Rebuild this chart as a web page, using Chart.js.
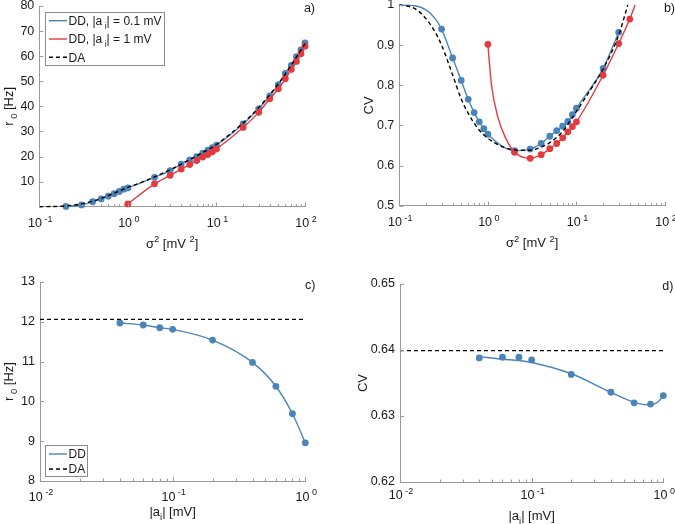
<!DOCTYPE html>
<html>
<head>
<meta charset="utf-8">
<script src="https://cdn.jsdelivr.net/npm/chart.js@4.4.1/dist/chart.umd.min.js"></script>
<style>
  html, body { margin: 0; padding: 0; background: #fff; }
  #wrap { position: relative; width: 675px; height: 524px; overflow: hidden; }
  canvas { position: absolute; }
</style>
</head>
<body>
<div id="wrap">
  <canvas id="pa" width="337" height="262" style="left:0;top:0"></canvas>
  <canvas id="pb" width="338" height="262" style="left:337px;top:0"></canvas>
  <canvas id="pc" width="337" height="262" style="left:0;top:262px"></canvas>
  <canvas id="pd" width="338" height="262" style="left:337px;top:262px"></canvas>
</div>
<script>
// ---------------- DATA ----------------
// Panel a) : r0 [Hz] vs sigma^2 [mV^2]
const sigma2BlueA = [0.2,0.3,0.4,0.5,0.6,0.7,0.8,0.9,1,2,3,4,5,6,7,8,9,10,20,30,40,50,60,70,80,90,100];
const r0BlueA     = [0.1,0.7,2.0,3.1,4.2,5.2,6.1,7.0,7.5,11.7,14.4,17.0,18.7,20.0,21.3,22.5,23.5,24.5,33.0,39.0,44.2,48.6,53.1,56.3,59.8,62.5,65.3];
const sigma2RedA  = [1,2,3,4,5,6,7,8,9,10,20,30,40,50,60,70,80,90,100];
const r0RedA      = [1.1,9.1,12.5,15.0,16.8,18.4,19.8,20.8,21.9,23.0,31.6,37.6,43.0,47.0,51.0,54.7,57.9,61.0,64.0];
const sigma2DAA   = [0.1,0.15,0.2,0.3,0.5,0.7,1,1.5,2,3,5,7,10,20,30,50,70,100];
const r0DAA       = [0,0.1,0.35,1.1,3.3,5.4,7.7,10.0,11.9,14.7,18.8,21.6,24.8,33.4,39.5,49.0,56.5,65.0];

// Panel b) : CV vs sigma^2 [mV^2]
const sigma2BlueB = [0.3,0.4,0.5,0.6,0.7,0.8,0.9,1,2,3,4,5,6,7,8,9,10,20,30];
const cvBlueB     = [0.940,0.868,0.812,0.765,0.732,0.709,0.692,0.678,0.637,0.641,0.655,0.673,0.687,0.698,0.710,0.727,0.743,0.842,0.932];
const sigma2BlueLeadB = [0.1,0.15,0.2,0.25];
const cvBlueLeadB     = [1.0,0.998,0.988,0.968];
const sigma2RedB  = [1,2,3,4,5,6,7,8,9,10,20,30,40];
const cvRedB      = [0.902,0.633,0.618,0.627,0.642,0.655,0.669,0.684,0.697,0.709,0.825,0.904,0.965];
const sigma2RedCurveB = [1,1.1,1.3,1.6,2,3,4,5,6,7,8,9,10,20,30,40,46];
const cvRedCurveB     = [0.902,0.80,0.72,0.667,0.633,0.618,0.627,0.642,0.655,0.669,0.684,0.697,0.709,0.825,0.904,0.965,1.0];
const sigma2DAB   = [0.1,0.15,0.2,0.25,0.3,0.4,0.5,0.6,0.8,1,1.5,2,3,4,5,7,10,15,20,30,38];
const cvDAB       = [1.0,0.991,0.966,0.935,0.9,0.826,0.766,0.73,0.688,0.668,0.646,0.639,0.638,0.646,0.657,0.685,0.735,0.795,0.84,0.925,1.0];

// Panel c) : r0 [Hz] vs |a_i| [mV]
const aiDD   = [0.04,0.06,0.08,0.1,0.2,0.4,0.6,0.8,1];
const r0DD   = [11.97,11.92,11.85,11.81,11.54,10.98,10.38,9.69,8.96];
const aiDA   = [0.01,1];
const r0DA   = [12.06,12.06];

// Panel d) : CV vs |a_i| [mV]
const cvDD      = [0.6388,0.6389,0.6389,0.6385,0.6363,0.6336,0.6320,0.6318,0.6331];
const aiFitD    = [0.04,0.06,0.08,0.1,0.2,0.4,0.6,0.75,0.85,0.93,1];
const cvFitD    = [0.6390,0.6386,0.6384,0.6381,0.6364,0.6336,0.6321,0.6317,0.6318,0.6323,0.6331];
const cvDA      = [0.6399,0.6399];

// Tick labels
const yTicksA = [10,20,30,40,50,60,70,80];
const yTicksB = [0.5,0.6,0.7,0.8,0.9,1];
const yTicksC = [8,9,10,11,12,13];
const yTicksD = [0.62,0.63,0.64,0.65];
const xExpAB  = [-1,0,1,2];
const xExpCD  = [-2,-1,0];

// ---------------- STYLE / HELPERS ----------------
const BLUE = '#4a84b8';
const RED = '#e43a3f';
const AXIS = '#9a9a9a';
const TXT = '#1a1a1a';
const FAM = '"Liberation Sans", Arial, Helvetica, sans-serif';
const font = sz => sz + 'px ' + FAM;
const pts = (xs, ys) => xs.map((x, i) => ({x: x, y: ys[i]}));

function richWidth(ctx, parts, size) {
  let w = 0;
  for (const p of parts) { ctx.font = font(p.s ? size * 0.72 : size); w += ctx.measureText(p.t).width; }
  return w;
}
function drawRich(ctx, parts, x, y, size, align) {
  const w = richWidth(ctx, parts, size);
  let cx = align === 'center' ? x - w / 2 : (align === 'right' ? x - w : x);
  ctx.textAlign = 'left'; ctx.textBaseline = 'alphabetic'; ctx.fillStyle = TXT;
  for (const p of parts) {
    ctx.font = font(p.s ? size * 0.72 : size);
    const dy = p.s === 'sup' ? -size * 0.42 : (p.s === 'sub' ? size * 0.32 : 0);
    ctx.fillText(p.t, cx, y + dy);
    cx += ctx.measureText(p.t).width;
  }
}
function seg(ctx, x1, y1, x2, y2) { ctx.beginPath(); ctx.moveTo(x1, y1); ctx.lineTo(x2, y2); ctx.stroke(); }

const decor = {
  id: 'decor',
  afterDraw(chart, args, o) {
    const ctx = chart.ctx, a = chart.chartArea, xs = chart.scales.x, ys = chart.scales.y;
    ctx.save();
    // inward tick marks
    ctx.strokeStyle = AXIS; ctx.lineWidth = 1;
    const e0 = Math.round(Math.log10(xs.min)), e1 = Math.round(Math.log10(xs.max));
    for (let e = e0; e <= e1; e++) {
      for (let m = 1; m <= 9; m++) {
        if (e === e1 && m > 1) break;
        const px = Math.round(xs.getPixelForValue(m * Math.pow(10, e))) + 0.5;
        seg(ctx, px, a.bottom, px, a.bottom - (m === 1 ? 4 : 2.5));
      }
    }
    for (const t of ys.ticks) {
      const py = Math.round(ys.getPixelForValue(t.value)) + 0.5;
      seg(ctx, a.left, py, a.left + 4, py);
    }
    // x tick labels (powers of ten)
    for (const e of o.xExp) {
      const px = xs.getPixelForValue(Math.pow(10, e));
      drawRich(ctx, [{t: '10'}, {t: ' ' + (e < 0 ? '-' : '') + Math.abs(e), s: 'sup'}], px + 1, a.bottom + o.xLabDy, 12.5, 'center');
    }
    // x title
    drawRich(ctx, o.xTitle, (a.left + a.right) / 2, a.bottom + o.xTitleDy, 13, 'center');
    // y title (rotated)
    ctx.save();
    ctx.translate(a.left - o.yTitleDx, (a.top + a.bottom) / 2);
    ctx.rotate(-Math.PI / 2);
    drawRich(ctx, o.yTitle, 0, 4.5, 13, 'center');
    ctx.restore();
    // panel label
    ctx.font = font(12.5); ctx.fillStyle = TXT; ctx.textAlign = 'right'; ctx.textBaseline = 'alphabetic';
    ctx.fillText(o.tag, a.right + 10, a.top + o.tagDy);
    // legend
    if (o.legend) {
      const L = o.legend;
      const bx = a.left + L.dx, by = a.top + L.dy;
      ctx.fillStyle = '#fff'; ctx.fillRect(bx, by, L.w, L.h);
      ctx.strokeStyle = '#8c8c8c'; ctx.lineWidth = 1;
      ctx.strokeRect(Math.round(bx) + 0.5, Math.round(by) + 0.5, L.w, L.h);
      L.items.forEach((it, i) => {
        const cy = by + L.first + i * L.step;
        ctx.strokeStyle = it.color; ctx.lineWidth = 1.4; ctx.setLineDash(it.dash || []);
        seg(ctx, bx + 4, cy, bx + 22, cy);
        ctx.setLineDash([]);
        drawRich(ctx, it.parts, bx + 23.5, cy + 4.3, 12, 'left');
      });
    }
    ctx.restore();
  }
};

function panel(id, cfg) {
  const ds = cfg.series.map(s => ({
    data: pts(s.x, s.y),
    showLine: !!s.line,
    borderColor: s.color,
    backgroundColor: s.color,
    borderWidth: s.line ? 1.4 : 0,
    borderDash: s.dash || [],
    pointRadius: s.line ? 0 : 3.4,
    pointHoverRadius: 0,
    pointBorderWidth: 0,
    cubicInterpolationMode: 'monotone',
    clip: s.line ? 2 : false
  }));
  const leftW = cfg.pad.left;
  return new Chart(document.getElementById(id), {
    type: 'scatter',
    data: { datasets: ds },
    options: {
      responsive: false, animation: false, events: [],
      layout: { padding: { left: 0, top: cfg.pad.top, right: cfg.pad.right, bottom: cfg.pad.bottom } },
      plugins: { legend: { display: false }, tooltip: { enabled: false }, decor: cfg.decor },
      scales: {
        x: {
          type: 'logarithmic', min: cfg.xmin, max: cfg.xmax,
          afterFit: s => { s.height = 0; s.paddingLeft = 0; s.paddingRight = 0; },
          ticks: { display: false },
          grid: { display: false, drawTicks: false },
          border: { display: true, color: AXIS, width: 1 }
        },
        y: {
          type: 'linear', min: cfg.ymin, max: cfg.ymax,
          afterBuildTicks: s => { s.ticks = cfg.yticks.map(v => ({ value: v })); },
          afterFit: s => { s.width = leftW; s.paddingTop = 0; s.paddingBottom = 0; },
          ticks: { callback: cfg.yfmt, font: { family: FAM, size: 12.5 }, color: TXT, padding: 5 },
          grid: { display: false, drawTicks: false },
          border: { display: true, color: AXIS, width: 1 }
        }
      }
    },
    plugins: [decor]
  });
}

const sigTitle = [{t: 'σ'}, {t: '2', s: 'sup'}, {t: ' [mV '}, {t: '2', s: 'sup'}, {t: ']'}];
const r0Title = [{t: 'r'}, {t: ' 0', s: 'sub'}, {t: ' [Hz]'}];
const cvTitle = [{t: 'CV'}];
const aiTitle = [{t: '|a'}, {t: 'i', s: 'sub'}, {t: '| [mV]'}];

// a)
panel('pa', {
  pad: { left: 39.3, top: 6, right: 32, bottom: 55.3 },
  xmin: 0.1, xmax: 100, ymin: 0, ymax: 80, yticks: yTicksA, yfmt: v => String(v),
  series: [
    { x: sigma2DAA, y: r0DAA, line: true, color: '#000', dash: [4, 3] },
    { x: sigma2RedA, y: r0RedA, color: RED },
    { x: sigma2RedA, y: r0RedA, line: true, color: RED },
    { x: sigma2BlueA, y: r0BlueA, color: BLUE },
    { x: sigma2BlueA, y: r0BlueA, line: true, color: BLUE }
  ],
  decor: {
    xExp: xExpAB, xLabDy: 20.5, xTitle: sigTitle, xTitleDy: 41, yTitle: r0Title, yTitleDx: 30.5,
    tag: 'a)', tagDy: 6,
    legend: { dx: 5.7, dy: 5.7, w: 119, h: 53, first: 9, step: 18.3, items: [
      { color: BLUE, parts: [{t: 'DD, |a'}, {t: ' i', s: 'sub'}, {t: '| = 0.1 mV'}] },
      { color: RED, parts: [{t: 'DD, |a'}, {t: ' i', s: 'sub'}, {t: '| = 1 mV'}] },
      { color: '#000', dash: [4, 3], parts: [{t: 'DA'}] }
    ]}
  }
});

// b)
panel('pb', {
  pad: { left: 62.3, top: 5, right: 10, bottom: 56.3 },
  xmin: 0.1, xmax: 100, ymin: 0.5, ymax: 1, yticks: yTicksB, yfmt: v => (v === 1 ? '1' : v.toFixed(1)),
  series: [
    { x: sigma2DAB, y: cvDAB, line: true, color: '#000', dash: [4, 3] },
    { x: sigma2RedB, y: cvRedB, color: RED },
    { x: sigma2RedCurveB, y: cvRedCurveB, line: true, color: RED },
    { x: sigma2BlueB, y: cvBlueB, color: BLUE },
    { x: sigma2BlueLeadB.concat(sigma2BlueB), y: cvBlueLeadB.concat(cvBlueB), line: true, color: BLUE }
  ],
  decor: {
    xExp: xExpAB, xLabDy: 20.5, xTitle: sigTitle, xTitleDy: 41.5, yTitle: cvTitle, yTitleDx: 31,
    tag: 'b)', tagDy: 7
  }
});

// c)
panel('pc', {
  pad: { left: 40, top: 20, right: 31.7, bottom: 43 },
  xmin: 0.01, xmax: 1, ymin: 8, ymax: 13, yticks: yTicksC, yfmt: v => String(v),
  series: [
    { x: aiDA, y: r0DA, line: true, color: '#000', dash: [4, 3] },
    { x: aiDD, y: r0DD, color: BLUE },
    { x: aiDD, y: r0DD, line: true, color: BLUE }
  ],
  decor: {
    xExp: xExpCD, xLabDy: 19.5, xTitle: aiTitle, xTitleDy: 35, yTitle: r0Title, yTitleDx: 31.5,
    tag: 'c)', tagDy: 7,
    legend: { dx: 5, dy: 163, w: 42, h: 31, first: 9, step: 15, items: [
      { color: BLUE, parts: [{t: 'DD'}] },
      { color: '#000', dash: [4, 3], parts: [{t: 'DA'}] }
    ]}
  }
});

// d)
panel('pd', {
  pad: { left: 63, top: 22, right: 11.7, bottom: 42 },
  xmin: 0.01, xmax: 1, ymin: 0.62, ymax: 0.65, yticks: yTicksD, yfmt: v => v.toFixed(2),
  series: [
    { x: aiDA, y: cvDA, line: true, color: '#000', dash: [4, 3] },
    { x: aiDD, y: cvDD, color: BLUE },
    { x: aiFitD, y: cvFitD, line: true, color: BLUE }
  ],
  decor: {
    xExp: xExpCD, xLabDy: 17, xTitle: aiTitle, xTitleDy: 37.5, yTitle: cvTitle, yTitleDx: 37.5,
    tag: 'd)', tagDy: 6
  }
});
</script>
</body>
</html>
